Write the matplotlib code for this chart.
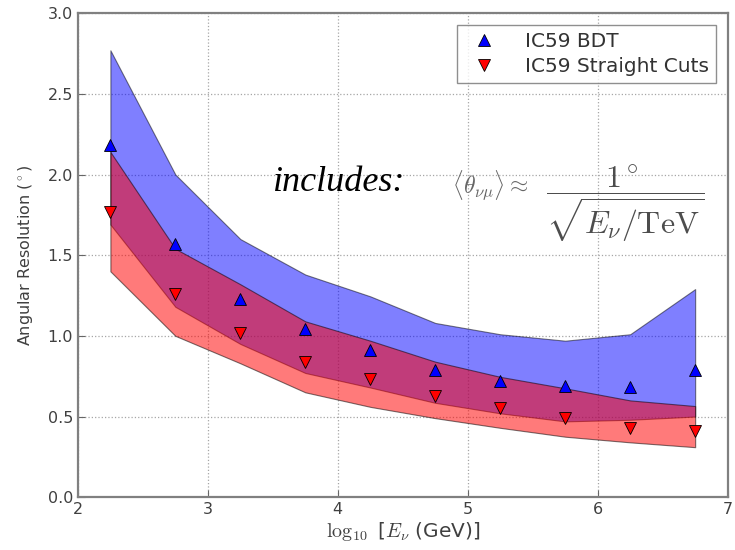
import numpy as np
import matplotlib
matplotlib.use("Agg")
import matplotlib.pyplot as plt

# energy bins (log10 GeV, bin centres)
log_e = [2.25, 2.75, 3.25, 3.75, 4.25, 4.75, 5.25, 5.75, 6.25, 6.75]

# IC59 BDT: median resolution and band
bdt_median = [2.18, 1.57, 1.23, 1.04, 0.91, 0.79, 0.72, 0.69, 0.68, 0.79]
bdt_low = [1.69, 1.18, 0.95, 0.77, 0.68, 0.585, 0.52, 0.47, 0.48, 0.50]
bdt_high = [2.77, 2.00, 1.60, 1.38, 1.245, 1.08, 1.01, 0.97, 1.01, 1.29]

# IC59 straight cuts: median resolution and band
sc_median = [1.77, 1.26, 1.02, 0.84, 0.73, 0.63, 0.55, 0.49, 0.43, 0.41]
sc_low = [1.40, 1.00, 0.83, 0.65, 0.56, 0.49, 0.43, 0.375, 0.34, 0.31]
sc_high = [2.14, 1.54, 1.32, 1.09, 0.97, 0.84, 0.746, 0.675, 0.60, 0.565]

x_ticks = [2, 3, 4, 5, 6, 7]
y_ticks = [0.0, 0.5, 1.0, 1.5, 2.0, 2.5, 3.0]

fig = plt.figure(figsize=(7.35, 5.5), dpi=100)
ax = fig.add_axes([0.106, 0.096, 0.884, 0.880])

ax.fill_between(log_e, bdt_low, bdt_high, color="blue", alpha=0.5,
                edgecolor="black", linewidth=0.8)
ax.fill_between(log_e, sc_low, sc_high, color="red", alpha=0.52,
                edgecolor="black", linewidth=0.8)

ax.plot(log_e, bdt_median, ls="", marker="^", ms=9, color="blue",
        mec="black", mew=0.6, label="IC59 BDT")
ax.plot(log_e, sc_median, ls="", marker="v", ms=9, color="red",
        mec="black", mew=0.6, label="IC59 Straight Cuts")

ax.set_xlim(2, 7)
ax.set_ylim(0, 3.0)
ax.set_xticks(x_ticks)
ax.set_yticks(y_ticks)
ax.set_yticklabels(["%.1f" % v for v in y_ticks])
ax.grid(True, color="0.65", ls=":", lw=0.9)
ax.set_axisbelow(True)
ax.tick_params(labelsize=11.5, labelcolor="0.25", color="0.4", direction="in",
               length=5)

for s in ax.spines.values():
    s.set_color("0.5")
    s.set_linewidth(1.6)

ax.set_xlabel(r"$\log_{10}$ [$E_\nu$ (GeV)]", fontsize=14.5, color="0.25",
              math_fontfamily="cm", labelpad=2)
ax.set_ylabel(r"Angular Resolution ($^\circ$)", fontsize=11.5, color="0.25",
              math_fontfamily="cm", labelpad=9)

leg = ax.legend(loc="upper right", numpoints=1, fontsize=14.5,
                borderpad=0.35, handletextpad=1.0, labelspacing=0.3,
                borderaxespad=0.6, fancybox=False)
leg.get_frame().set_edgecolor("0.45")
for t in leg.get_texts():
    t.set_color("0.2")

ax.text(3.50, 1.95, "includes:", fontsize=26, style="italic",
        family="Liberation Serif", ha="left", va="center")
ax.text(4.88, 1.93, r"$\langle\theta_{\nu\mu}\rangle \approx$",
        fontsize=17, color="0.4", ha="left", va="center", math_fontfamily="cm")
ax.text(5.60, 1.82, r"$\dfrac{1^\circ}{\sqrt{E_\nu/\mathrm{TeV}}}$",
        fontsize=23, color="0.3", ha="left", va="center", math_fontfamily="cm")

fig.savefig("out.png", dpi=100)
